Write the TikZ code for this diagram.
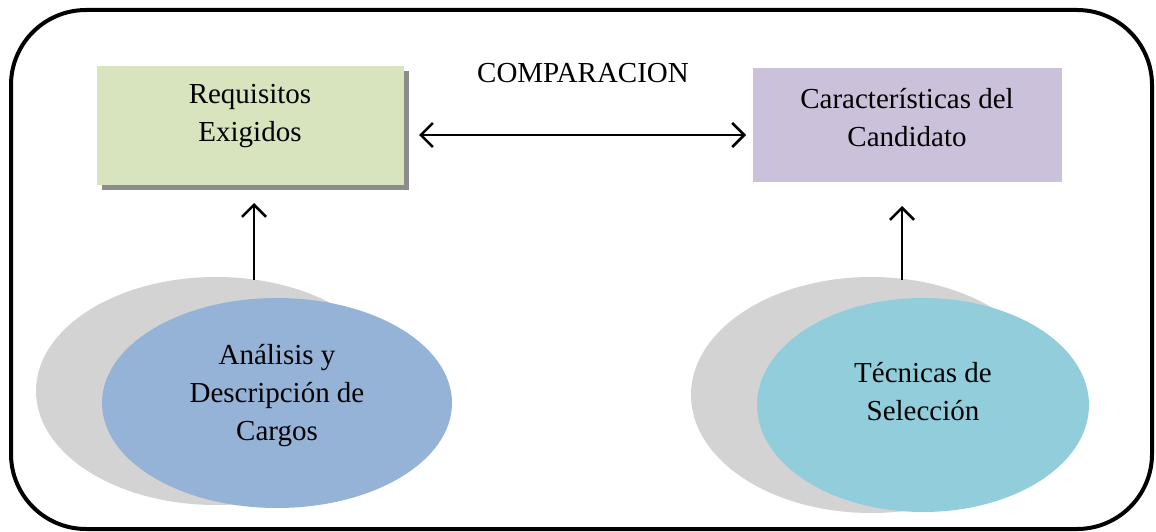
\documentclass[tikz,border=0pt]{standalone}
\usepackage{fontspec}
\setmainfont{Liberation Serif}
\usetikzlibrary{arrows.meta,shapes.geometric}
\definecolor{reqgreen}{HTML}{D7E4BD}
\definecolor{candpurple}{HTML}{CCC1DA}
\definecolor{shadowgray}{HTML}{8C8C8C}
\definecolor{ellgray}{HTML}{D3D3D3}
\definecolor{ellblue}{HTML}{95B3D7}
\definecolor{ellteal}{HTML}{92CDDC}
\tikzset{
  txt/.style={font=\fontsize{29pt}{38pt}\selectfont, align=center, inner sep=0pt},
  oval/.style={ellipse, draw=none, inner sep=0pt},
  conn/.style={line width=2.6pt, -{Straight Barb[length=12pt,width=24pt,line width=2.6pt]}},
  dconn/.style={line width=2.6pt, {Straight Barb[length=12pt,width=24pt,line width=2.6pt]}-{Straight Barb[length=12pt,width=24pt,line width=2.6pt]}},
}
\begin{document}
\begin{tikzpicture}[x=1pt,y=-1pt]
\useasboundingbox (0,0) rectangle (1156,532);
% outer frame
\draw[line width=4pt, rounded corners=75pt] (11,10) rectangle (1152,529);
% left box with shadow
\fill[shadowgray] (102,71) rectangle (409,190);
\node[fill=reqgreen, minimum width=307pt, minimum height=119pt, inner sep=0pt, anchor=north west] (req) at (97,66) {};
\node[txt] (reqt) at (250,116) {Requisitos\\Exigidos};
% right box
\node[fill=candpurple, minimum width=309pt, minimum height=114pt, inner sep=0pt, anchor=north west] (cand) at (753,68) {};
\node[txt] (candt) at (907,118) {Características del\\Candidato};
% comparacion
\node[txt] (comp) at (583,73) {COMPARACION};
\coordinate (dl) at (419,135);
\coordinate (dr) at (746,135);
\draw[dconn] (dl) -- (dr);
% ellipses left
\node[oval, fill=ellgray, minimum width=360pt, minimum height=228pt] (g1) at (216,391) {};
\node[oval, fill=ellblue, minimum width=350pt, minimum height=210pt] (e1) at (277,403) {};
\node[txt] (e1t) at (277,396) {Análisis y\\Descripción de\\Cargos};
% ellipses right
\node[oval, fill=ellgray, minimum width=360pt, minimum height=236pt] (g2) at (871,395) {};
\node[oval, fill=ellteal, minimum width=332pt, minimum height=214pt] (e2) at (923,405) {};
\node[txt] (e2t) at (923,392) {Técnicas de\\Selección};
% vertical arrows
\coordinate (a1) at (254,280);
\coordinate (b1) at (254,203);
\draw[conn] (a1) -- (b1);
\coordinate (a2) at (902,280);
\coordinate (b2) at (902,206);
\draw[conn] (a2) -- (b2);
\end{tikzpicture}
\end{document}
